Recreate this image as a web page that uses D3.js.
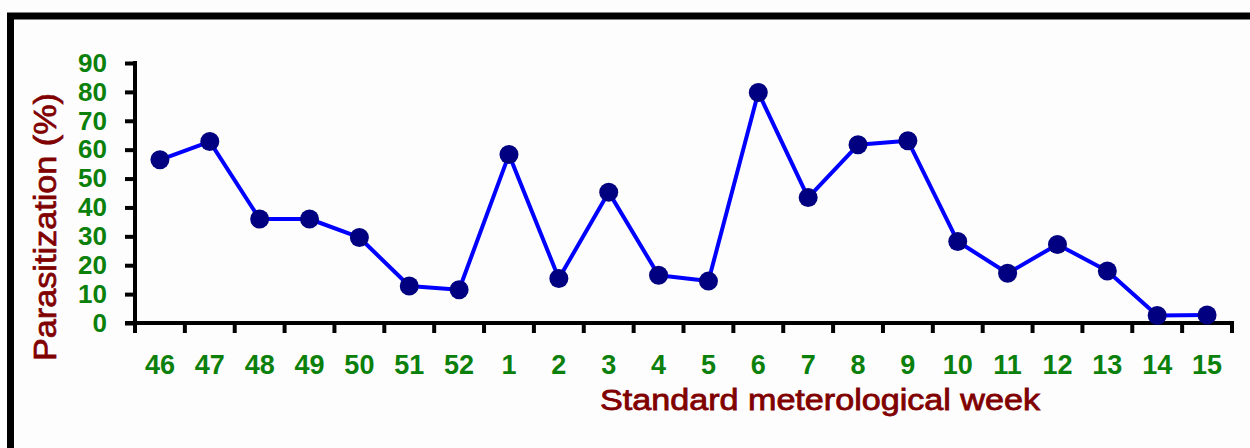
<!DOCTYPE html>
<html><head><meta charset="utf-8">
<script src="https://cdn.jsdelivr.net/npm/d3@7"></script>
<style>body{margin:0;background:#fff}svg{display:block}</style>
</head><body>
<script>
const weeks = ["46","47","48","49","50","51","52","1","2","3","4","5","6","7","8","9","10","11","12","13","14","15"];
const parasitization = [56.5,62.8,36,36,29.6,12.8,11.5,58.3,15.4,45.3,16.5,14.5,79.8,43.4,61.7,63.1,28.2,17.2,27.2,18,2.6,2.8];
const yTicks = [0,10,20,30,40,50,60,70,80,90];

const W = 1250, H = 448;
const svg = d3.select("body").append("svg").attr("width", W).attr("height", H);
svg.append("rect").attr("width", W).attr("height", H).attr("fill", "#fdfdfd");
// frame
svg.append("rect").attr("x", 10.5).attr("y", 16).attr("width", 1400).attr("height", 600)
  .attr("fill", "none").attr("stroke", "#000").attr("stroke-width", 7);

const x = d3.scaleBand().domain(weeks).range([135, 1232]);
const y = d3.scaleLinear().domain([0, 90]).range([323, 63]);
const green = "#0b800b", red = "#800000", font = "'Liberation Sans', Arial, sans-serif";

// Y axis
const ya = svg.append("g").attr("transform", "translate(135,0)")
  .call(d3.axisLeft(y).tickValues(yTicks).tickSize(10).tickSizeOuter(0).tickPadding(18));
ya.select(".domain").attr("stroke-width", 4).attr("d", `M0,${y(90)-2}V${y(0)+2}`);
ya.selectAll(".tick line").attr("stroke-width", 4).attr("x1", 0).attr("x2", -10);
ya.selectAll(".tick text").attr("fill", green).attr("font-family", font).attr("font-weight", "bold")
  .attr("font-size", 26).attr("x", -28);

// X axis line
svg.append("line").attr("x1", 125).attr("x2", 1234).attr("y1", y(0)).attr("y2", y(0))
  .attr("stroke", "#000").attr("stroke-width", 4);
const bounds = weeks.map(w => x(w)).concat([x.range()[1]]);
svg.append("g").selectAll("line").data(bounds).join("line")
  .attr("x1", d => d).attr("x2", d => d).attr("y1", y(0)).attr("y2", y(0) + 10)
  .attr("stroke", "#000").attr("stroke-width", 4);
const xa = svg.append("g").attr("transform", `translate(0,${y(0)})`)
  .call(d3.axisBottom(x).tickSize(0).tickPadding(32));
xa.select(".domain").remove();
xa.selectAll(".tick text").attr("fill", green).attr("font-family", font).attr("font-weight", "bold")
  .attr("font-size", 27);

// titles
svg.append("text").attr("x", 820).attr("y", 410).attr("text-anchor", "middle")
  .attr("fill", red).attr("stroke", red).attr("stroke-width", 0.8)
  .attr("font-family", font).attr("font-size", 29)
  .attr("textLength", 440).attr("lengthAdjust", "spacingAndGlyphs")
  .text("Standard meterological week");
svg.append("text").attr("transform", "translate(56,227) rotate(-90)").attr("text-anchor", "middle")
  .attr("fill", red).attr("stroke", red).attr("stroke-width", 0.7)
  .attr("font-family", font).attr("font-size", 31)
  .attr("textLength", 268).attr("lengthAdjust", "spacingAndGlyphs")
  .text("Parasitization (%)");

// line + markers
const cx = d => x(d) + x.bandwidth() / 2;
svg.append("path").datum(weeks.map((w, i) => [w, parasitization[i]]))
  .attr("fill", "none").attr("stroke", "#0000ff").attr("stroke-width", 4).attr("stroke-linejoin", "round")
  .attr("d", d3.line().x(d => cx(d[0])).y(d => y(d[1])));
svg.append("g").selectAll("circle").data(weeks.map((w, i) => [w, parasitization[i]])).join("circle")
  .attr("cx", d => cx(d[0])).attr("cy", d => y(d[1])).attr("r", 9.5).attr("fill", "#000080");
</script>
</body></html>
